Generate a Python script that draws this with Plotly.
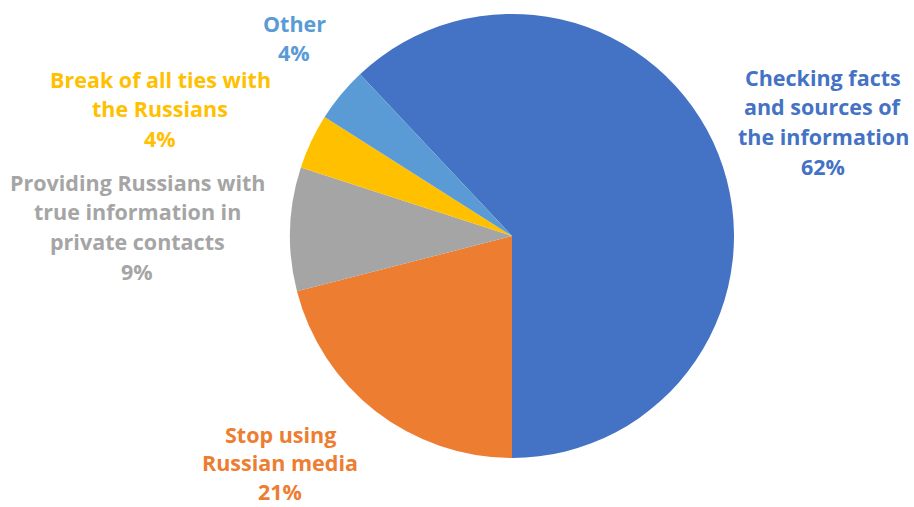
import plotly.graph_objects as go

# Survey answers and their shares (%)
categories = [
    "Checking facts and sources of the information",
    "Stop using Russian media",
    "Providing Russians with true information in private contacts",
    "Break of all ties with the Russians",
    "Other",
]
shares = [62, 21, 9, 4, 4]

# Label text broken into lines as displayed
label_lines = [
    ["Checking facts", "and sources of", "the information"],
    ["Stop using", "Russian media"],
    ["Providing Russians with", "true information in", "private contacts"],
    ["Break of all ties with", "the Russians"],
    ["Other"],
]

colors = ["#4472C4", "#ED7D31", "#A5A5A5", "#FFC000", "#5B9BD5"]

W, H = 914, 507
cx, cy, r = 512, 236, 222

fig = go.Figure(
    go.Pie(
        labels=categories,
        values=shares,
        sort=False,
        direction="clockwise",
        rotation=316.8,
        marker=dict(colors=colors, line=dict(width=0)),
        textinfo="none",
        hoverinfo="label+percent",
        domain=dict(
            x=[(cx - r) / W, (cx + r) / W],
            y=[1 - (cy + r) / H, 1 - (cy - r) / H],
        ),
        showlegend=False,
    )
)

# Centre of the first text line of each label, and line spacing, in pixels
label_pos = [(823, 77), (280, 434), (137, 182), (160, 79), (294, 23)]
label_gap = [29.8, 28.8, 29.8, 29.8, 29.8]

for lines, val, col, (px, py), gap in zip(label_lines, shares, colors, label_pos, label_gap):
    for i, line in enumerate(lines + [f"{val}%"]):
        fig.add_annotation(
            x=px / W,
            y=1 - (py + i * gap) / H,
            xref="paper",
            yref="paper",
            xanchor="center",
            yanchor="middle",
            text=line,
            showarrow=False,
            borderpad=0,
            font=dict(family="Open Sans", size=21.5, color=col, weight="bold"),
        )

fig.update_layout(
    width=W,
    height=H,
    margin=dict(l=0, r=0, t=0, b=0),
    paper_bgcolor="white",
    plot_bgcolor="white",
)

fig.write_html("out.html")
